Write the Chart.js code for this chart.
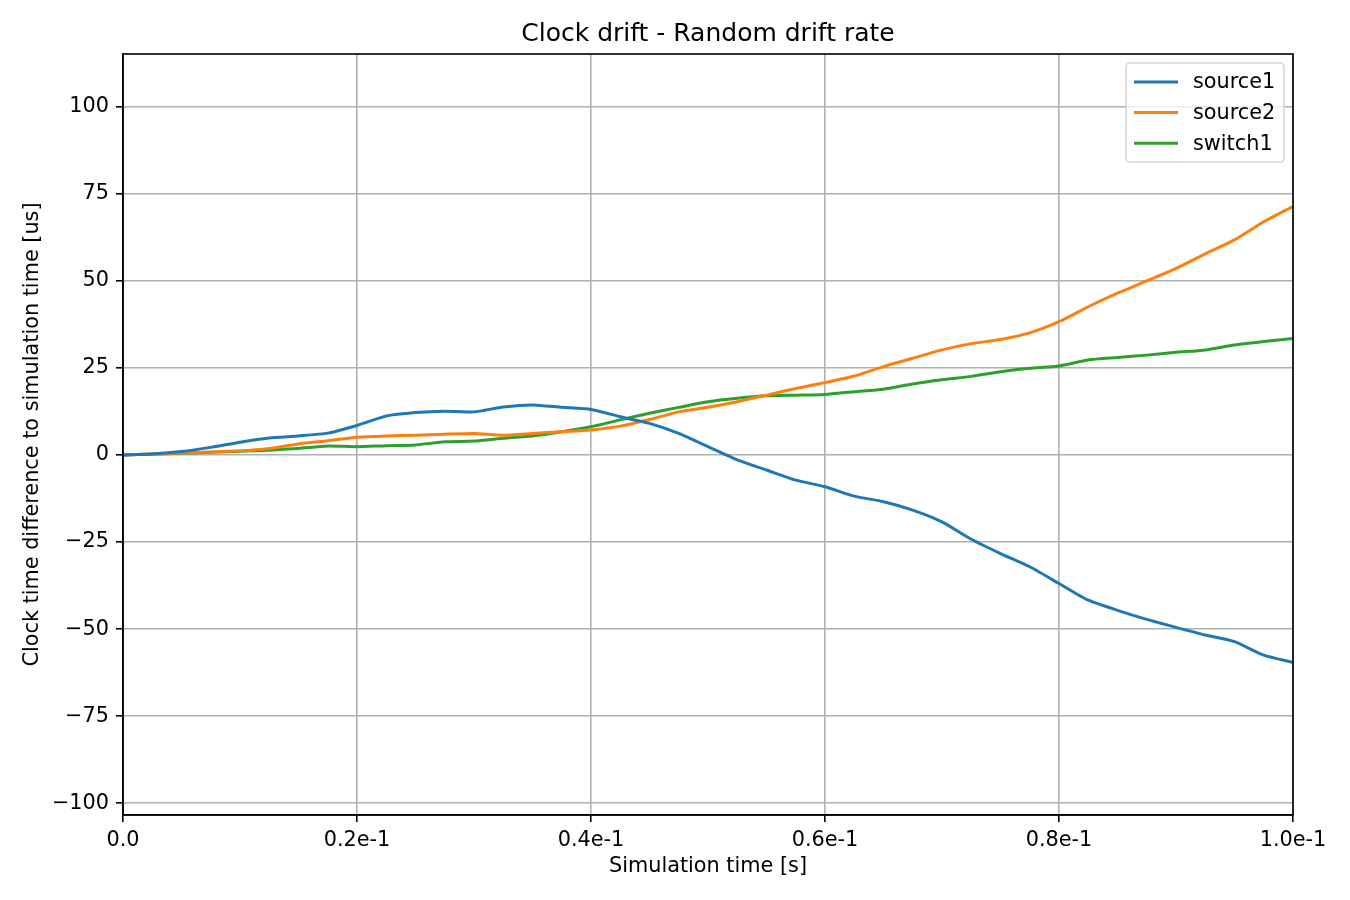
<!DOCTYPE html>
<html lang="en">
<head>
<meta charset="UTF-8">
<title>Clock drift - Random drift rate</title>
<script src="https://cdn.jsdelivr.net/npm/chart.js"></script>
<style>
body { margin: 0; background: #fff; }
#wrap { width: 1350px; height: 900px; }
</style>
</head>
<body>
<div id="wrap"><canvas id="driftChart"></canvas></div>
<script>
var simTime = [0, 0.0025, 0.005, 0.0075, 0.01, 0.0125, 0.015, 0.0175, 0.02, 0.0225,
    0.025, 0.0275, 0.03, 0.0325, 0.035, 0.0375, 0.04, 0.0425, 0.045, 0.0475,
    0.05, 0.0525, 0.055, 0.0575, 0.06, 0.0625, 0.065, 0.0675, 0.07, 0.0725,
    0.075, 0.0775, 0.08, 0.0825, 0.085, 0.0875, 0.09, 0.0925, 0.095, 0.0975, 0.1];
var source1 = [0, 0.3, 1.0, 2.2, 3.7, 4.9, 5.5, 6.3, 8.5, 11.2,
    12.2, 12.6, 12.4, 13.8, 14.4, 13.7, 13.1, 11.0, 9.1, 6.2,
    2.4, -1.4, -4.3, -7.2, -9.1, -11.8, -13.4, -15.8, -19.2, -24.2,
    -28.3, -32.1, -36.9, -41.7, -44.6, -47.2, -49.5, -51.7, -53.6, -57.5, -59.6];
var source2 = [0, 0.3, 0.6, 0.9, 1.2, 1.9, 3.2, 4.1, 5.1, 5.5,
    5.7, 6.0, 6.2, 5.7, 6.2, 6.7, 7.2, 8.3, 10.2, 12.4,
    13.7, 15.3, 17.2, 19.1, 20.8, 22.7, 25.4, 27.8, 30.2, 32.0,
    33.2, 35.1, 38.3, 42.6, 46.5, 50.0, 53.6, 57.8, 61.8, 67.0, 71.4];
var switch1 = [0, 0.3, 0.5, 0.8, 1.1, 1.4, 1.9, 2.6, 2.4, 2.7,
    2.9, 3.8, 4.0, 4.8, 5.5, 6.7, 8.1, 10.1, 12.0, 13.7,
    15.3, 16.3, 17.0, 17.2, 17.4, 18.2, 18.9, 20.4, 21.6, 22.6,
    23.9, 24.9, 25.6, 27.3, 28.0, 28.7, 29.5, 30.2, 31.6, 32.6, 33.5];

var xTicks = [0, 0.02, 0.04, 0.06, 0.08, 0.1];
var xTickLabels = ['0.0', '0.2e-1', '0.4e-1', '0.6e-1', '0.8e-1', '1.0e-1'];
var yTicks = [-100, -75, -50, -25, 0, 25, 50, 75, 100];
var yTickLabels = ['\u2212100', '\u221275', '\u221250', '\u221225', '0', '25', '50', '75', '100'];
var chartTitle = 'Clock drift - Random drift rate';

var FONT = '"DejaVu Sans", sans-serif';

function toPoints(ys) {
    return ys.map(function (y, i) { return {x: simTime[i], y: y}; });
}

function labelFor(ticks, labels, value) {
    for (var i = 0; i < ticks.length; i++) {
        if (Math.abs(ticks[i] - value) < 1e-9) return labels[i];
    }
    return '';
}

// title centred over the plot, box round the plot, legend in the upper right corner
var framePlugin = {
    id: 'frame',
    afterDraw: function (chart) {
        var ctx = chart.ctx, a = chart.chartArea;
        ctx.save();
        ctx.fillStyle = '#000';
        ctx.font = '25px ' + FONT;
        ctx.textAlign = 'center';
        ctx.textBaseline = 'middle';
        ctx.fillText(chartTitle, (a.left + a.right) / 2, 34);

        ctx.strokeStyle = '#000';
        ctx.lineWidth = 1.6;
        ctx.strokeRect(a.left, a.top, a.right - a.left, a.bottom - a.top);

        var bx = a.right - 167, by = a.top + 9, bw = 158, bh = 99;
        ctx.beginPath();
        ctx.roundRect(bx, by, bw, bh, 4);
        ctx.fillStyle = 'rgba(255,255,255,0.8)';
        ctx.fill();
        ctx.strokeStyle = 'rgba(204,204,204,0.8)';
        ctx.lineWidth = 1.6;
        ctx.stroke();

        ctx.font = '20.8px ' + FONT;
        ctx.textBaseline = 'middle';
        ctx.textAlign = 'left';
        chart.data.datasets.forEach(function (ds, i) {
            var y = by + 19 + i * 30.6;
            ctx.beginPath();
            ctx.moveTo(bx + 8, y);
            ctx.lineTo(bx + 52, y);
            ctx.strokeStyle = ds.borderColor;
            ctx.lineWidth = 3;
            ctx.stroke();
            ctx.fillStyle = '#000';
            ctx.fillText(ds.label, bx + 67, y + 1);
        });
        ctx.restore();
    }
};

new Chart(document.getElementById('driftChart'), {
    type: 'line',
    data: {
        datasets: [
            {label: 'source1', data: toPoints(source1), borderColor: '#1f77b4'},
            {label: 'source2', data: toPoints(source2), borderColor: '#ff7f0e'},
            {label: 'switch1', data: toPoints(switch1), borderColor: '#2ca02c'}
        ]
    },
    options: {
        responsive: true,
        maintainAspectRatio: false,
        animation: false,
        layout: {padding: {left: 0, right: 57, top: 54, bottom: 0}},
        elements: {
            line: {borderWidth: 3, tension: 0.2, fill: false},
            point: {radius: 0}
        },
        plugins: {
            legend: {display: false},
            tooltip: {enabled: false},
            title: {display: false}
        },
        scales: {
            x: {
                type: 'linear',
                min: 0,
                max: 0.1,
                afterBuildTicks: function (scale) {
                    scale.ticks = xTicks.map(function (v) { return {value: v}; });
                },
                afterFit: function (scale) { scale.height = 85; },
                ticks: {
                    color: '#000',
                    padding: 6,
                    maxRotation: 0,
                    autoSkip: false,
                    font: {family: FONT, size: 20.8},
                    callback: function (v) { return labelFor(xTicks, xTickLabels, v); }
                },
                grid: {color: '#b0b0b0', lineWidth: 1.6, tickLength: 7, tickColor: '#000', tickWidth: 1.6},
                border: {display: true, color: '#000', width: 1.6},
                title: {
                    display: true,
                    text: 'Simulation time [s]',
                    color: '#000',
                    font: {family: FONT, size: 20.8, lineHeight: 1.2},
                    padding: {top: 0, bottom: 21}
                }
            },
            y: {
                min: -103.4,
                max: 115.2,
                afterBuildTicks: function (scale) {
                    scale.ticks = yTicks.map(function (v) { return {value: v}; });
                },
                afterFit: function (scale) { scale.width = 123; },
                ticks: {
                    color: '#000',
                    padding: 7,
                    autoSkip: false,
                    font: {family: FONT, size: 20.8},
                    callback: function (v) { return labelFor(yTicks, yTickLabels, v); }
                },
                grid: {color: '#b0b0b0', lineWidth: 1.6, tickLength: 7, tickColor: '#000', tickWidth: 1.6},
                border: {display: true, color: '#000', width: 1.6},
                title: {
                    display: true,
                    text: 'Clock time difference to simulation time [us]',
                    color: '#000',
                    font: {family: FONT, size: 20.8, lineHeight: 1.2},
                    padding: {top: 20, bottom: 0}
                }
            }
        }
    },
    plugins: [framePlugin]
});
</script>
</body>
</html>
